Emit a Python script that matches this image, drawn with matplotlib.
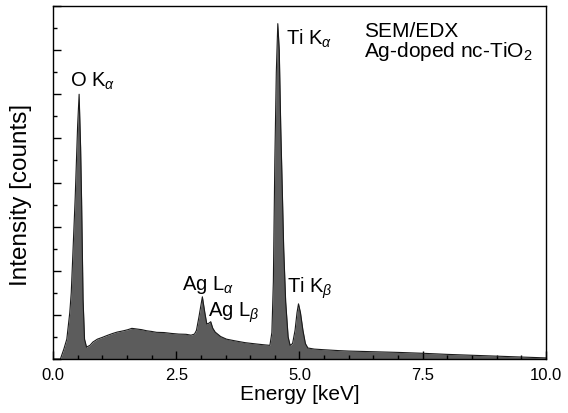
import numpy as np
import matplotlib
matplotlib.use('Agg')
import matplotlib.pyplot as plt
from matplotlib.ticker import MultipleLocator

plt.rcParams['font.family'] = ['Liberation Sans', 'DejaVu Sans']
plt.rcParams['mathtext.fontset'] = 'custom'
plt.rcParams['mathtext.rm'] = 'Liberation Sans'
plt.rcParams['mathtext.it'] = 'Liberation Sans:italic'

# EDX spectrum (keV, counts in tick units)
energy = [0.00, 0.15, 0.22, 0.28, 0.34, 0.37, 0.40, 0.45, 0.50, 0.53, 0.56, 0.58,
          0.61, 0.64, 0.68, 0.75, 0.81, 0.90, 1.00, 1.09, 1.20, 1.30, 1.43, 1.52,
          1.60, 1.70, 1.80, 1.90, 2.00, 2.10, 2.25, 2.40, 2.55, 2.70, 2.80, 2.87,
          2.91, 2.96, 3.03, 3.08, 3.12, 3.16, 3.20, 3.24, 3.29, 3.40, 3.52, 3.70,
          3.90, 4.13, 4.30, 4.40, 4.44, 4.47, 4.50, 4.53, 4.56, 4.59, 4.62, 4.65,
          4.68, 4.72, 4.77, 4.81, 4.86, 4.91, 4.95, 4.98, 5.02, 5.07, 5.12, 5.17,
          5.30, 5.50, 5.80, 6.00, 6.50, 7.00, 7.50, 8.00, 8.50, 9.00, 9.50, 10.00]
counts = [0.00, 0.00, 0.45, 0.90, 2.10, 3.00, 4.60, 7.30, 10.6, 12.0, 9.60, 7.20,
          2.70, 0.90, 0.54, 0.62, 0.77, 0.90, 0.98, 1.06, 1.15, 1.22, 1.28, 1.33,
          1.39, 1.36, 1.33, 1.28, 1.25, 1.21, 1.20, 1.16, 1.13, 1.12, 1.08, 1.13,
          1.30, 1.90, 2.82, 2.10, 1.59, 1.62, 1.69, 1.40, 1.22, 1.02, 0.90, 0.82,
          0.74, 0.68, 0.64, 0.62, 1.20, 3.50, 9.00, 13.0, 15.2, 14.0, 10.5, 7.80,
          5.00, 2.60, 1.00, 0.62, 0.70, 1.30, 2.10, 2.50, 2.10, 1.30, 0.70, 0.50,
          0.45, 0.42, 0.38, 0.36, 0.33, 0.30, 0.26, 0.21, 0.17, 0.13, 0.09, 0.05]

labels = [r'O K$_\alpha$', r'Ti K$_\alpha$', r'Ag L$_\alpha$', r'Ag L$_\beta$', r'Ti K$_\beta$']
label_x = [0.345, 4.73, 2.62, 3.14, 4.75]
label_y = [12.4, 14.3, 3.17, 1.95, 3.04]

fig = plt.figure(figsize=(5.68, 4.14), dpi=100)
ax = fig.add_axes([0.0933, 0.1304, 0.8679, 0.8527])

ax.fill_between(energy, counts, 0, color='#5c5c5c', linewidth=0)
ax.plot(energy, counts, color='#1a1a1a', linewidth=0.8)

for txt, x, y in zip(labels, label_x, label_y):
    ax.text(x, y, txt, fontsize=14.5, va='baseline', ha='left')

ax.text(6.31, 14.64, 'SEM/EDX', fontsize=15, va='baseline', ha='left')
ax.text(6.31, 13.74, r'Ag-doped nc-TiO$_2$', fontsize=15, va='baseline', ha='left')

ax.set_xlim(0, 10)
ax.set_ylim(0, 16)
ax.xaxis.set_major_locator(MultipleLocator(2.5))
ax.xaxis.set_minor_locator(MultipleLocator(0.5))
ax.yaxis.set_major_locator(MultipleLocator(2))
ax.yaxis.set_minor_locator(MultipleLocator(1))
ax.xaxis.set_major_formatter(plt.FormatStrFormatter('%.1f'))
ax.tick_params(which='both', direction='in', top=False, right=False, width=1.0)
ax.tick_params(which='major', length=6)
ax.tick_params(which='minor', length=3)
ax.tick_params(axis='x', labelsize=12, pad=6)
ax.tick_params(axis='y', labelleft=False)
for s in ax.spines.values():
    s.set_linewidth(1.0)

ax.set_xlabel('Energy [keV]', fontsize=15, labelpad=1)
ax.set_ylabel('Intensity [counts]', fontsize=17.5)
ax.yaxis.set_label_coords(-0.042, 0.467)

fig.savefig('out.png', dpi=100)
